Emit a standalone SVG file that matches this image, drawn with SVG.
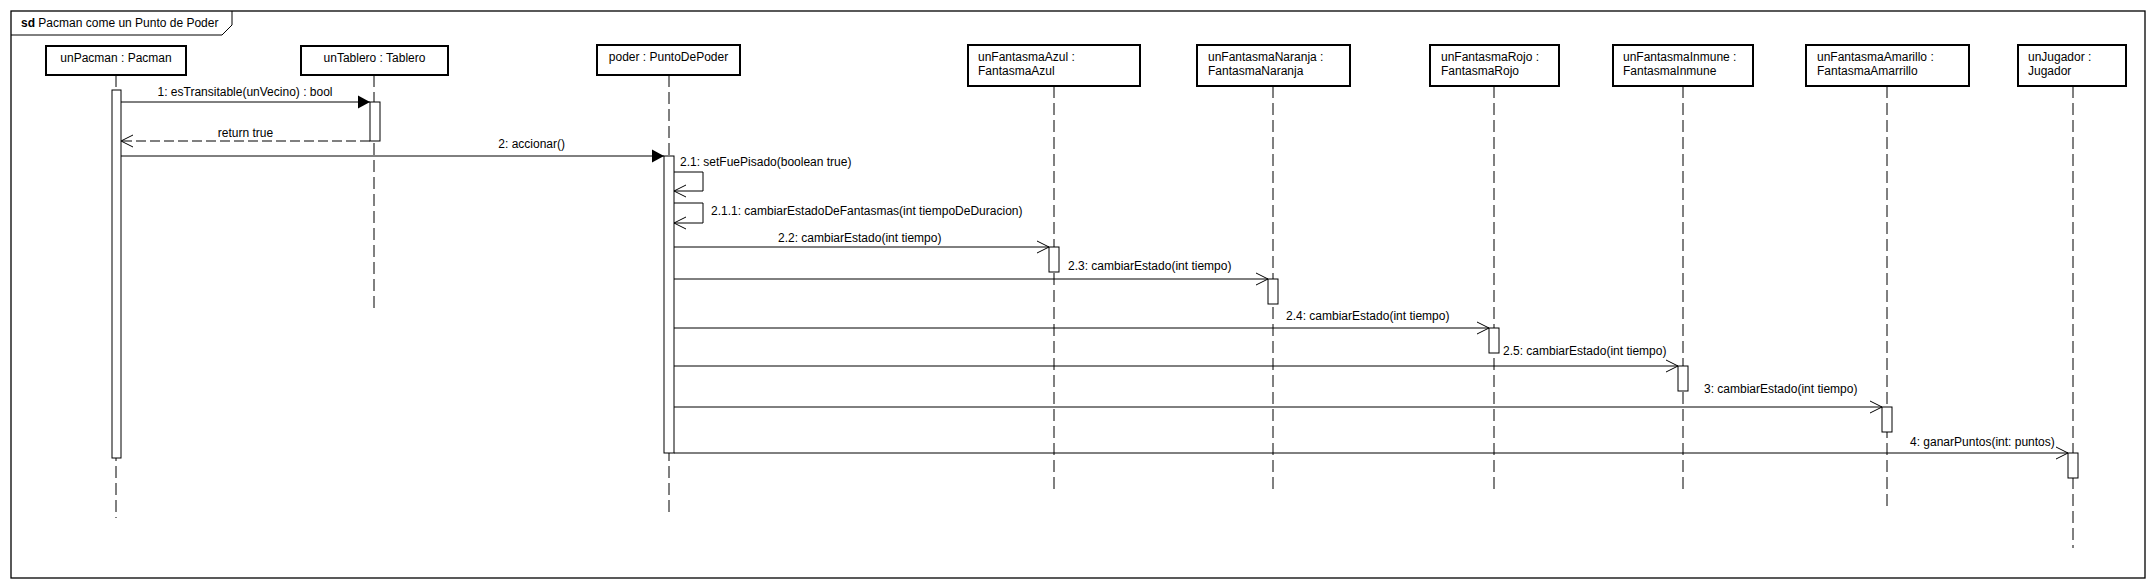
<svg xmlns="http://www.w3.org/2000/svg" width="2154" height="588" viewBox="0 0 2154 588">
<style>
text{font-family:"Liberation Sans",Arial,sans-serif;font-size:12px;fill:#000}
.box{fill:#fff;stroke:#000;stroke-width:2}
.life{stroke:#000;stroke-width:1;stroke-dasharray:12 5;fill:none}
.act{fill:#fff;stroke:#000;stroke-width:1}
.msg{stroke:#000;stroke-width:1;fill:none}
.ret{stroke:#000;stroke-width:1;fill:none;stroke-dasharray:10 4}
.mid{text-anchor:middle}
</style>
<defs>
<marker id="filled" markerWidth="13" markerHeight="14" refX="12" refY="7" orient="auto" markerUnits="userSpaceOnUse">
<path d="M0,0.5 L12,7 L0,13.5 Z" fill="#000"/>
</marker>
<marker id="open" markerWidth="13" markerHeight="14" refX="12" refY="7" orient="auto" markerUnits="userSpaceOnUse">
<path d="M0,1 L12,7 L0,13" fill="none" stroke="#000" stroke-width="1"/>
</marker>
</defs>
<rect x="0" y="0" width="2154" height="588" fill="#fff"/>
<g id="frame">
<rect x="11" y="11" width="2134" height="567" fill="none" stroke="#000" stroke-width="1.3"/>
<path d="M11,35 H222 L232,25 V11" fill="none" stroke="#000" stroke-width="1"/>
<text x="21" y="27"><tspan font-weight="bold">sd</tspan> Pacman come un Punto de Poder</text>
</g>
<g id="lifelines">
<line class="life" x1="116" y1="75" x2="116" y2="518"/>
<line class="life" x1="374" y1="75" x2="374" y2="309"/>
<line class="life" x1="669" y1="75" x2="669" y2="517"/>
<line class="life" x1="1054" y1="86" x2="1054" y2="490"/>
<line class="life" x1="1273" y1="86" x2="1273" y2="490"/>
<line class="life" x1="1494" y1="86" x2="1494" y2="490"/>
<line class="life" x1="1683" y1="86" x2="1683" y2="492"/>
<line class="life" x1="1887" y1="86" x2="1887" y2="507"/>
<line class="life" x1="2073" y1="86" x2="2073" y2="548"/>
</g>
<g id="unPacman">
<rect class="box" x="46" y="46" width="140" height="29"/>
<text class="mid" x="116" y="62">unPacman : Pacman</text>
<rect class="act" x="112" y="90" width="9" height="368"/>
</g>
<g id="unTablero">
<rect class="box" x="301" y="46" width="147" height="29"/>
<text class="mid" x="374.5" y="62">unTablero : Tablero</text>
<rect class="act" x="370" y="102" width="10" height="39"/>
</g>
<g id="poder">
<rect class="box" x="597" y="45" width="143" height="30"/>
<text class="mid" x="668.5" y="61">poder : PuntoDePoder</text>
<rect class="act" x="664" y="156" width="10" height="297"/>
</g>
<g id="unFantasmaAzul">
<rect class="box" x="968" y="45" width="172" height="41"/>
<text x="978" y="61">unFantasmaAzul :</text>
<text x="978" y="75">FantasmaAzul</text>
<rect class="act" x="1049" y="247" width="10" height="25"/>
</g>
<g id="unFantasmaNaranja">
<rect class="box" x="1197" y="45" width="153" height="41"/>
<text x="1208" y="61">unFantasmaNaranja :</text>
<text x="1208" y="75">FantasmaNaranja</text>
<rect class="act" x="1268" y="279" width="10" height="25"/>
</g>
<g id="unFantasmaRojo">
<rect class="box" x="1430" y="45" width="129" height="41"/>
<text x="1441" y="61">unFantasmaRojo :</text>
<text x="1441" y="75">FantasmaRojo</text>
<rect class="act" x="1489" y="328" width="10" height="25"/>
</g>
<g id="unFantasmaInmune">
<rect class="box" x="1613" y="45" width="140" height="41"/>
<text x="1623" y="61">unFantasmaInmune :</text>
<text x="1623" y="75">FantasmaInmune</text>
<rect class="act" x="1678" y="366" width="10" height="25"/>
</g>
<g id="unFantasmaAmarillo">
<rect class="box" x="1806" y="45" width="163" height="41"/>
<text x="1817" y="61">unFantasmaAmarillo :</text>
<text x="1817" y="75">FantasmaAmarrillo</text>
<rect class="act" x="1882" y="407" width="10" height="25"/>
</g>
<g id="unJugador">
<rect class="box" x="2018" y="45" width="108" height="41"/>
<text x="2028" y="61">unJugador :</text>
<text x="2028" y="75">Jugador</text>
<rect class="act" x="2068" y="453" width="10" height="25"/>
</g>
<g id="connectors">
<line class="msg" x1="121" y1="102" x2="370" y2="102" marker-end="url(#filled)"/>
<text class="mid" x="245" y="96">1: esTransitable(unVecino) : bool</text>
<line class="ret" x1="370" y1="141" x2="121" y2="141" marker-end="url(#open)"/>
<text class="mid" x="245.5" y="137">return true</text>
<line class="msg" x1="121" y1="156" x2="664" y2="156" marker-end="url(#filled)"/>
<text x="565" y="148" text-anchor="end">2: accionar()</text>
<path class="msg" d="M674,172 H703 V191 H674" marker-end="url(#open)"/>
<text x="680" y="166">2.1: setFuePisado(boolean true)</text>
<path class="msg" d="M674,203 H703 V223 H674" marker-end="url(#open)"/>
<text x="711" y="215">2.1.1: cambiarEstadoDeFantasmas(int tiempoDeDuracion)</text>
<line class="msg" x1="674" y1="247" x2="1049" y2="247" marker-end="url(#open)"/>
<text x="778" y="242">2.2: cambiarEstado(int tiempo)</text>
<line class="msg" x1="674" y1="279" x2="1268" y2="279" marker-end="url(#open)"/>
<text x="1068" y="270">2.3: cambiarEstado(int tiempo)</text>
<line class="msg" x1="674" y1="328" x2="1489" y2="328" marker-end="url(#open)"/>
<text x="1286" y="320">2.4: cambiarEstado(int tiempo)</text>
<line class="msg" x1="674" y1="366" x2="1678" y2="366" marker-end="url(#open)"/>
<text x="1503" y="355">2.5: cambiarEstado(int tiempo)</text>
<line class="msg" x1="674" y1="407" x2="1882" y2="407" marker-end="url(#open)"/>
<text x="1704" y="393">3: cambiarEstado(int tiempo)</text>
<line class="msg" x1="674" y1="453" x2="2068" y2="453" marker-end="url(#open)"/>
<text x="1910" y="446">4: ganarPuntos(int: puntos)</text>
</g>
</svg>
